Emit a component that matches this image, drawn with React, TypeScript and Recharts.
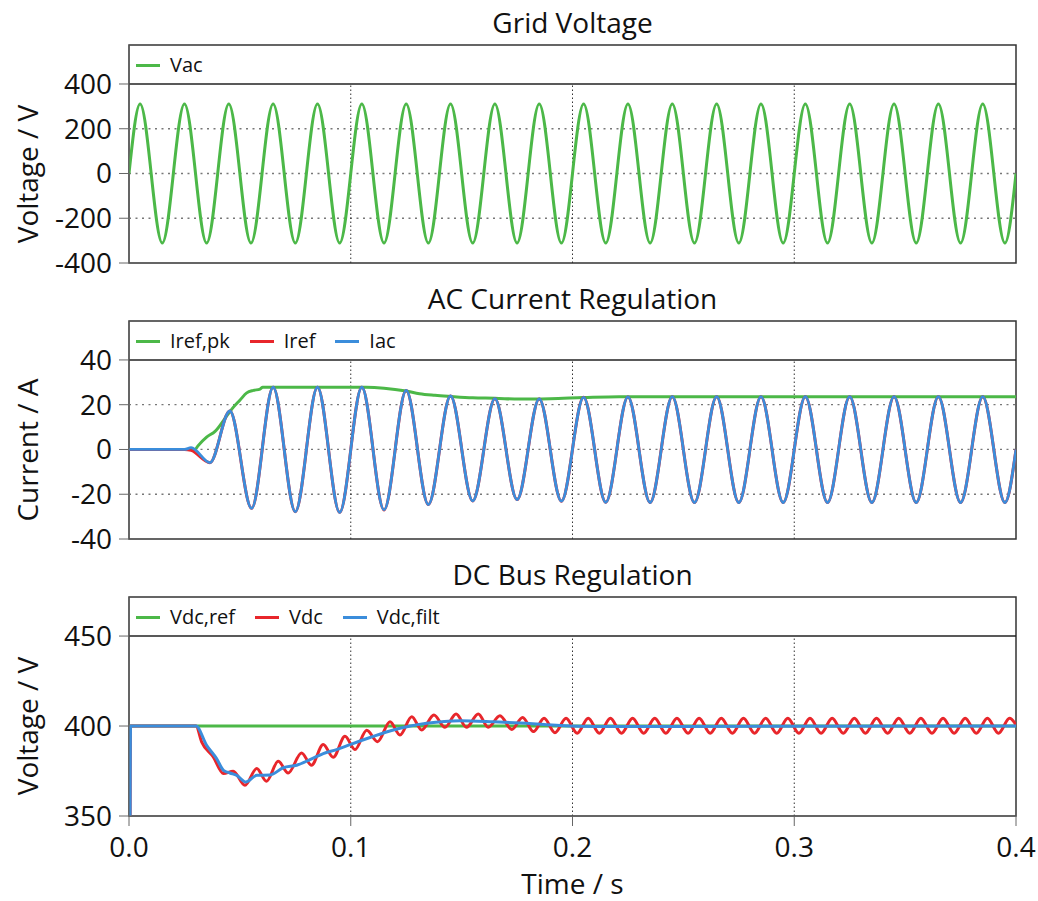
import { LineChart, Line, XAxis, YAxis, ReferenceLine, ReferenceArea, Legend } from "recharts";

const FONT = '"Open Sans", "DejaVu Sans", sans-serif';
const GREEN = "#4cb848";
const RED = "#e8262b";
const BLUE = "#3b8ddb";

const timeTicks = [0, 0.1, 0.2, 0.3, 0.4];
const gridTimes = [0.1, 0.2, 0.3];

type Pt = [number, number];

// Grid Voltage: start/end crossings plus each peak and trough (V)
const vacPts: Pt[] = [
  [0, 0],
  [0.005, 311], [0.015, -311], [0.025, 311], [0.035, -311], [0.045, 311],
  [0.055, -311], [0.065, 311], [0.075, -311], [0.085, 311], [0.095, -311],
  [0.105, 311], [0.115, -311], [0.125, 311], [0.135, -311], [0.145, 311],
  [0.155, -311], [0.165, 311], [0.175, -311], [0.185, 311], [0.195, -311],
  [0.205, 311], [0.215, -311], [0.225, 311], [0.235, -311], [0.245, 311],
  [0.255, -311], [0.265, 311], [0.275, -311], [0.285, 311], [0.295, -311],
  [0.305, 311], [0.315, -311], [0.325, 311], [0.335, -311], [0.345, 311],
  [0.355, -311], [0.365, 311], [0.375, -311], [0.385, 311], [0.395, -311],
  [0.4, 0],
];

// AC current (A): start-up, then peaks / troughs
const iacHead: Pt[] = [[0, 0], [0.025, 0], [0.028, 0.8]];
const irefHead: Pt[] = [[0, 0], [0.025, 0], [0.028, -0.4]];
const iacWave: Pt[] = [
  [0.0365, -5.9], [0.0455, 17.2], [0.0553, -26.3], [0.065, 27.8], [0.075, -27.8],
  [0.085, 27.8], [0.095, -28.1], [0.105, 27.8], [0.115, -27.0], [0.125, 26.4],
  [0.135, -24.6], [0.145, 23.9], [0.155, -23.0], [0.165, 22.7], [0.175, -22.4],
  [0.185, 22.6], [0.195, -23.1], [0.205, 23.3], [0.215, -23.6], [0.225, 23.5],
  [0.235, -23.7], [0.245, 23.6], [0.255, -23.7], [0.265, 23.6], [0.275, -23.7],
  [0.285, 23.6], [0.295, -23.7], [0.305, 23.6], [0.315, -23.7], [0.325, 23.6],
  [0.335, -23.7], [0.345, 23.6], [0.355, -23.7], [0.365, 23.6], [0.375, -23.7],
  [0.385, 23.6], [0.395, -23.7], [0.4, 0],
];
const irefPkPts: Pt[] = [
  [0, 0], [0.0298, 0], [0.031, 1.5], [0.035, 5.5], [0.0388, 8.1], [0.0441, 15.0],
  [0.047, 18.8], [0.05, 22.0], [0.0531, 25.3], [0.0561, 26.4], [0.0591, 27.0],
  [0.0603, 27.8], [0.107, 27.8], [0.115, 27.4], [0.125, 26.1], [0.131, 24.9],
  [0.138, 24.2], [0.145, 23.7], [0.155, 23.1], [0.165, 22.9], [0.176, 22.5],
  [0.19, 22.7], [0.205, 23.2], [0.221, 23.6], [0.4, 23.6],
];

// DC bus (V)
const vdcRefPts: Pt[] = [[0, 400], [0.4, 400]];
const vdcPts: Pt[] = [
  [0.0005, 350], [0.0007, 400], [0.0302, 400], [0.0328, 391.1], [0.038, 382.8],
  [0.0426, 373.6], [0.047, 374.9], [0.0523, 367.1], [0.0576, 376.4], [0.062, 369.3],
  [0.0673, 380.4], [0.0718, 373.9], [0.0778, 385], [0.0823, 378.2], [0.0876, 389.8],
  [0.0921, 382.6], [0.0974, 394.3], [0.1019, 386.9], [0.1072, 397.6], [0.1121, 391.3],
  [0.1177, 402.4], [0.1222, 395], [0.1275, 405.2], [0.132, 397.8], [0.1375, 406.1],
  [0.1425, 399.3], [0.1475, 406.7], [0.1522, 399.3], [0.1575, 406.7], [0.162, 399.3],
  [0.1673, 405.7], [0.1726, 398.1], [0.1775, 404.8], [0.1824, 396.9], [0.1872, 404.3],
  [0.1921, 396.3], [0.1971, 404.3], [0.2021, 396], [0.2071, 404.3], [0.2121, 396],
  [0.2171, 404.3], [0.2221, 396], [0.2271, 404.3], [0.2321, 396], [0.2371, 404.3],
  [0.2421, 396], [0.2471, 404.3], [0.2521, 396], [0.2571, 404.3], [0.2621, 396],
  [0.2671, 404.3], [0.2721, 396], [0.2771, 404.3], [0.2821, 396], [0.2871, 404.3],
  [0.2921, 396], [0.2971, 404.3], [0.3021, 396], [0.3071, 404.3], [0.3121, 396],
  [0.3171, 404.3], [0.3221, 396], [0.3271, 404.3], [0.3321, 396], [0.3371, 404.3],
  [0.3421, 396], [0.3471, 404.3], [0.3521, 396], [0.3571, 404.3], [0.3621, 396],
  [0.3671, 404.3], [0.3721, 396], [0.3771, 404.3], [0.3821, 396], [0.3871, 404.3],
  [0.3921, 396], [0.3971, 404.3], [0.4, 400.6],
];
const vdcFiltPts: Pt[] = [
  [0.0005, 350], [0.0007, 400], [0.0302, 400], [0.035, 389.3], [0.0395, 381.9],
  [0.0426, 375.4], [0.0455, 373.9], [0.0486, 372.6], [0.0527, 368.9], [0.0576, 372.6],
  [0.0636, 372.8], [0.0696, 376.8], [0.0756, 378.2], [0.0816, 381.3], [0.0876, 384.7],
  [0.0936, 386.9], [0.0997, 389.7], [0.1087, 393.6], [0.1192, 397.8], [0.1342, 401.5],
  [0.1493, 403], [0.1643, 402.4], [0.1793, 401.5], [0.1943, 400.3], [0.21, 399.8],
  [0.25, 399.8], [0.4, 400],
];

type Series = { name: string; color: string; width: number; pts: Pt[] };

const rows = (pts: Pt[]) => pts.map(([t, v]) => ({ t, v }));

function LegendRow({ series }: { series: Series[] }) {
  return (
    <div style={{ display: "flex", alignItems: "center", fontFamily: FONT, fontSize: 20, color: "#111", lineHeight: "28px" }}>
      {series.map((s) => (
        <div key={s.name} style={{ display: "flex", alignItems: "center", marginRight: 20 }}>
          <span style={{ display: "inline-block", width: 24, height: 3, background: s.color, marginRight: 10 }} />
          <span>{s.name}</span>
        </div>
      ))}
    </div>
  );
}

type PanelProps = {
  top: number;
  height: number;
  yDomain: [number, number];
  yTicks: number[];
  yGrid: number[];
  series: Series[];
  showTime?: boolean;
};

function Panel({ top, height, yDomain, yTicks, yGrid, series, showTime }: PanelProps) {
  const [ylo, yhi] = yDomain;
  const yTop = yTicks[yTicks.length - 1];
  const tickStyle = { fontSize: 28, fill: "#111", fontFamily: FONT };
  return (
    <div style={{ position: "absolute", left: 0, top }}>
      <LineChart
        width={1038}
        height={height}
        margin={{ top: 41, right: 22, bottom: showTime ? 0 : 17, left: 69 }}
      >
        <XAxis
          type="number"
          dataKey="t"
          domain={[0, 0.4]}
          ticks={timeTicks}
          hide={!showTime}
          height={showTime ? 80 : 0}
          tickSize={10}
          tickMargin={11}
          tick={tickStyle}
          tickFormatter={(v: number) => v.toFixed(1)}
          stroke="#666"
          allowDataOverflow
        />
        <YAxis
          type="number"
          domain={yDomain}
          ticks={yTicks}
          interval={0}
          width={60}
          tickSize={10}
          tickMargin={7}
          tick={tickStyle}
          stroke="#666"
          allowDataOverflow
        />
        <ReferenceArea x1={0} x2={0.4} y1={ylo} y2={yhi} fill="none" stroke="#333" strokeWidth={1.5} />
        {yGrid.map((v) => (
          <ReferenceLine key={v} y={v} stroke="#777" strokeDasharray="2 4.5" strokeWidth={1.3} />
        ))}
        {gridTimes.map((t) => (
          <ReferenceLine
            key={t}
            segment={[{ x: t, y: ylo }, { x: t, y: yTop }]}
            stroke="#333"
            strokeDasharray="1.5 2.5"
          />
        ))}
        <ReferenceLine y={yTop} stroke="#222" strokeWidth={1.5} />
        {series.map((s) => (
          <Line
            key={s.name}
            data={rows(s.pts)}
            dataKey="v"
            name={s.name}
            type="monotone"
            stroke={s.color}
            strokeWidth={s.width}
            dot={false}
            isAnimationActive={false}
          />
        ))}
        <Legend
          layout="horizontal"
          verticalAlign="middle"
          align="center"
          wrapperStyle={{ left: 136, top: 47, width: "auto", height: "auto" }}
          content={() => <LegendRow series={series} />}
        />
      </LineChart>
    </div>
  );
}

const titleStyle = (top: number) => ({
  position: "absolute" as const,
  left: 129,
  width: 887,
  top,
  textAlign: "center" as const,
  fontSize: 28,
  lineHeight: "30px",
  color: "#111",
});

const yLabelStyle = (cy: number) => ({
  position: "absolute" as const,
  left: 27,
  top: cy,
  transform: "translate(-50%, -50%) rotate(-90deg)",
  whiteSpace: "nowrap" as const,
  fontSize: 28,
  lineHeight: "32px",
  color: "#111",
});

export default function App() {
  return (
    <div style={{ position: "absolute", left: 0, top: 0, width: 1038, height: 901, background: "#fff", fontFamily: FONT }}>
      <Panel
        top={4}
        height={276}
        yDomain={[-400, 574.3]}
        yTicks={[-400, -200, 0, 200, 400]}
        yGrid={[-200, 0, 200]}
        series={[{ name: "Vac", color: GREEN, width: 3, pts: vacPts }]}
      />
      <Panel
        top={280}
        height={276}
        yDomain={[-40, 57.4]}
        yTicks={[-40, -20, 0, 20, 40]}
        yGrid={[-20, 0, 20]}
        series={[
          { name: "Iref,pk", color: GREEN, width: 3, pts: irefPkPts },
          { name: "Iref", color: RED, width: 3, pts: [...irefHead, ...iacWave] },
          { name: "Iac", color: BLUE, width: 2.8, pts: [...iacHead, ...iacWave] },
        ]}
      />
      <Panel
        top={556}
        height={340}
        yDomain={[350, 471.7]}
        yTicks={[350, 400, 450]}
        yGrid={[]}
        showTime
        series={[
          { name: "Vdc,ref", color: GREEN, width: 3, pts: vdcRefPts },
          { name: "Vdc", color: RED, width: 3, pts: vdcPts },
          { name: "Vdc,filt", color: BLUE, width: 3, pts: vdcFiltPts },
        ]}
      />
      <div style={titleStyle(7)}>Grid Voltage</div>
      <div style={titleStyle(283)}>AC Current Regulation</div>
      <div style={titleStyle(559)}>DC Bus Regulation</div>
      <div style={yLabelStyle(173.5)}>Voltage / V</div>
      <div style={yLabelStyle(449.5)}>Current / A</div>
      <div style={yLabelStyle(726)}>Voltage / V</div>
      <div style={{ position: "absolute", left: 129, width: 887, top: 868, textAlign: "center", fontSize: 28, lineHeight: "30px", color: "#111" }}>
        Time / s
      </div>
    </div>
  );
}
